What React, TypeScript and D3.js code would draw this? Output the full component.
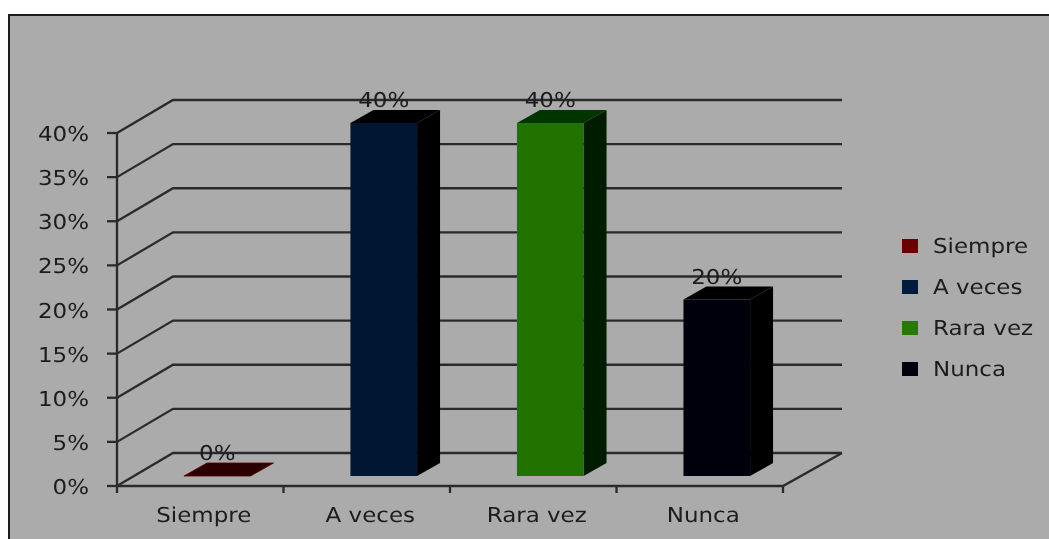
import * as d3 from 'd3'

const categories = ['Siempre', 'A veces', 'Rara vez', 'Nunca']
const values = [0, 0.4, 0.4, 0.2]
const frontColors = ['#2a0000', '#001431', '#217200', '#03030f']
const sideColors = ['#1a0000', '#000000', '#001e00', '#000000']
const topColors = ['#2a0000', '#000000', '#003600', '#000000']
const legendColors = ['#6b0000', '#001a3d', '#267a00', '#03030f']
const yTicks = [0, 0.05, 0.1, 0.15, 0.2, 0.25, 0.3, 0.35, 0.4]

const width = 1049
const height = 539
const wallDx = 56
const wallDy = -33
const barDx = 23
const barDy = -13
const floorLift = 10
const textStretch = 1.12
const inkColor = '#1c1c1c'
const lineColor = '#2c2c2c'
const lineWidth = 2.3

const yScale = d3.scaleLinear().domain([0, 0.4]).range([486, 133])
const xScale = d3.scaleBand<string>().domain(categories).range([117, 783])
const legendScale = d3.scalePoint<string>().domain(categories).range([246, 369])
const pct = d3.format('.0%')

function Label({ x, y, anchor = 'start', children }: any) {
  return (
    <text
      transform={`translate(${x},${y}) scale(${textStretch},1)`}
      textAnchor={anchor}
      fontFamily="'DejaVu Sans', sans-serif"
      fontSize={20.5}
      textRendering="geometricPrecision"
      fill={inkColor}
    >
      {children}
    </text>
  )
}

export default function App() {
  const step = xScale.bandwidth()
  const barWidth = step * 0.4
  const x0 = xScale.range()[0]
  const x1 = xScale.range()[1]
  const base = yScale(0)
  const line = d3.line()

  return (
    <svg
      width={width}
      height={height}
      style={{ position: 'absolute', left: 0, top: 0, display: 'block' }}
    >
      <defs>
        <filter id="soft" x="-2%" y="-2%" width="104%" height="104%">
          <feGaussianBlur stdDeviation="0.45" />
        </filter>
      </defs>
      <rect width={width} height={height} fill="#ffffff" />
      <g filter="url(#soft)">
        <rect x={9} y={15} width={width + 20} height={height + 20} fill="#ababab" stroke="#1a1a1a" strokeWidth={2} />

        {/* walls */}
        {yTicks.map((t) => {
          const y = yScale(t)
          return (
            <g key={t}>
              <path
                d={line([[x0, y], [x0 + wallDx, y + wallDy], [x1 + wallDx + 3, y + wallDy]]) || ''}
                fill="none"
                stroke={lineColor}
                strokeWidth={lineWidth}
              />
              <line x1={x0 - 10} x2={x0} y1={y} y2={y} stroke={lineColor} strokeWidth={lineWidth} />
              <Label x={89} y={y + 8} anchor="end">{pct(t)}</Label>
            </g>
          )
        })}

        {/* axes */}
        <line x1={x0} x2={x0} y1={yScale(0.4)} y2={base} stroke={lineColor} strokeWidth={lineWidth} />
        <path
          d={line([[x0, base], [x1, base], [x1 + wallDx + 3, base + wallDy]]) || ''}
          fill="none"
          stroke={lineColor}
          strokeWidth={lineWidth}
        />
        {[...categories.map((c) => xScale(c) as number), x1].map((x) => (
          <line key={x} x1={x} x2={x} y1={base} y2={base + 7} stroke={lineColor} strokeWidth={lineWidth} />
        ))}

        {/* bars */}
        {categories.map((c, i) => {
          const left = (xScale(c) as number) + step / 2 + 17 - barWidth / 2
          const right = left + barWidth
          const bottom = base - floorLift
          const top = yScale(values[i]) - floorLift
          return (
            <g key={c}>
              <path
                d={line([[right, bottom], [right + barDx, bottom + barDy], [right + barDx, top + barDy], [right, top]]) + 'Z'}
                fill={sideColors[i]}
              />
              <path
                d={line([[left, top], [right, top], [right + barDx, top + barDy], [left + barDx, top + barDy]]) + 'Z'}
                fill={topColors[i]}
                stroke={values[i] === 0 ? '#5a0000' : 'none'}
                strokeWidth={0.8}
              />
              <rect x={left} y={top} width={barWidth} height={bottom - top} fill={frontColors[i]} />
              <Label x={(left + right) / 2} y={top - 16} anchor="middle">{pct(values[i])}</Label>
            </g>
          )
        })}

        {/* category labels */}
        {categories.map((c) => (
          <Label key={c} x={(xScale(c) as number) + step / 2 + 3.5} y={522} anchor="middle">{c}</Label>
        ))}

        {/* legend */}
        {categories.map((c, i) => {
          const y = legendScale(c) as number
          return (
            <g key={c}>
              <rect x={902} y={y - 7} width={16} height={14} fill={legendColors[i]} />
              <Label x={933} y={y + 7}>{c}</Label>
            </g>
          )
        })}
      </g>
    </svg>
  )
}
